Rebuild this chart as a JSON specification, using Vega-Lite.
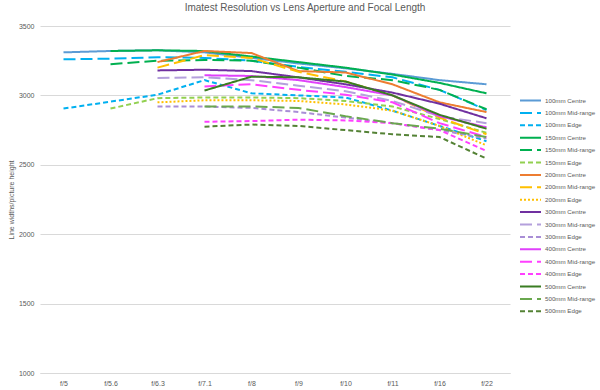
{
  "$schema": "https://vega.github.io/schema/vega-lite/v6.json",
  "width": 470,
  "height": 347,
  "autosize": {"type": "none"},
  "padding": {"left": 40, "top": 26, "right": 90, "bottom": 17},
  "background": "white",
  "config": {"font": "Liberation Sans", "view": {"stroke": null}},
  "title": {"text": "Imatest Resolution vs Lens Aperture and Focal Length", "fontSize": 10, "fontWeight": "normal", "color": "#595959", "anchor": "middle", "dx": 30, "offset": 9},
  "data": {"values": [
    {"series":"100mm Centre","aperture":"f/5","value":3310},{"series":"100mm Centre","aperture":"f/5.6","value":3320},{"series":"100mm Centre","aperture":"f/6.3","value":3325},{"series":"100mm Centre","aperture":"f/7.1","value":3310},{"series":"100mm Centre","aperture":"f/8","value":3270},{"series":"100mm Centre","aperture":"f/9","value":3230},{"series":"100mm Centre","aperture":"f/10","value":3195},{"series":"100mm Centre","aperture":"f/11","value":3155},{"series":"100mm Centre","aperture":"f/16","value":3110},{"series":"100mm Centre","aperture":"f/22","value":3080},
    {"series":"100mm Mid-range","aperture":"f/5","value":3260},{"series":"100mm Mid-range","aperture":"f/5.6","value":3265},{"series":"100mm Mid-range","aperture":"f/6.3","value":3275},{"series":"100mm Mid-range","aperture":"f/7.1","value":3270},{"series":"100mm Mid-range","aperture":"f/8","value":3250},{"series":"100mm Mid-range","aperture":"f/9","value":3205},{"series":"100mm Mid-range","aperture":"f/10","value":3170},{"series":"100mm Mid-range","aperture":"f/11","value":3130},{"series":"100mm Mid-range","aperture":"f/16","value":3040},{"series":"100mm Mid-range","aperture":"f/22","value":2895},
    {"series":"100mm Edge","aperture":"f/5","value":2905},{"series":"100mm Edge","aperture":"f/5.6","value":2955},{"series":"100mm Edge","aperture":"f/6.3","value":3005},{"series":"100mm Edge","aperture":"f/7.1","value":3110},{"series":"100mm Edge","aperture":"f/8","value":3015},{"series":"100mm Edge","aperture":"f/9","value":3000},{"series":"100mm Edge","aperture":"f/10","value":2985},{"series":"100mm Edge","aperture":"f/11","value":2890},{"series":"100mm Edge","aperture":"f/16","value":2780},{"series":"100mm Edge","aperture":"f/22","value":2670},
    {"series":"150mm Centre","aperture":"f/5.6","value":3320},{"series":"150mm Centre","aperture":"f/6.3","value":3325},{"series":"150mm Centre","aperture":"f/7.1","value":3320},{"series":"150mm Centre","aperture":"f/8","value":3280},{"series":"150mm Centre","aperture":"f/9","value":3240},{"series":"150mm Centre","aperture":"f/10","value":3200},{"series":"150mm Centre","aperture":"f/11","value":3150},{"series":"150mm Centre","aperture":"f/16","value":3090},{"series":"150mm Centre","aperture":"f/22","value":3015},
    {"series":"150mm Mid-range","aperture":"f/5.6","value":3225},{"series":"150mm Mid-range","aperture":"f/6.3","value":3250},{"series":"150mm Mid-range","aperture":"f/7.1","value":3255},{"series":"150mm Mid-range","aperture":"f/8","value":3250},{"series":"150mm Mid-range","aperture":"f/9","value":3200},{"series":"150mm Mid-range","aperture":"f/10","value":3140},{"series":"150mm Mid-range","aperture":"f/11","value":3110},{"series":"150mm Mid-range","aperture":"f/16","value":3040},{"series":"150mm Mid-range","aperture":"f/22","value":2900},
    {"series":"150mm Edge","aperture":"f/5.6","value":2905},{"series":"150mm Edge","aperture":"f/6.3","value":2980},{"series":"150mm Edge","aperture":"f/7.1","value":2985},{"series":"150mm Edge","aperture":"f/8","value":2985},{"series":"150mm Edge","aperture":"f/9","value":2980},{"series":"150mm Edge","aperture":"f/10","value":2960},{"series":"150mm Edge","aperture":"f/11","value":2920},{"series":"150mm Edge","aperture":"f/16","value":2830},{"series":"150mm Edge","aperture":"f/22","value":2730},
    {"series":"200mm Centre","aperture":"f/6.3","value":3240},{"series":"200mm Centre","aperture":"f/7.1","value":3320},{"series":"200mm Centre","aperture":"f/8","value":3305},{"series":"200mm Centre","aperture":"f/9","value":3175},{"series":"200mm Centre","aperture":"f/10","value":3165},{"series":"200mm Centre","aperture":"f/11","value":3080},{"series":"200mm Centre","aperture":"f/16","value":2950},{"series":"200mm Centre","aperture":"f/22","value":2880},
    {"series":"200mm Mid-range","aperture":"f/6.3","value":3200},{"series":"200mm Mid-range","aperture":"f/7.1","value":3290},{"series":"200mm Mid-range","aperture":"f/8","value":3270},{"series":"200mm Mid-range","aperture":"f/9","value":3170},{"series":"200mm Mid-range","aperture":"f/10","value":3100},{"series":"200mm Mid-range","aperture":"f/11","value":3000},{"series":"200mm Mid-range","aperture":"f/16","value":2840},{"series":"200mm Mid-range","aperture":"f/22","value":2720},
    {"series":"200mm Edge","aperture":"f/6.3","value":2950},{"series":"200mm Edge","aperture":"f/7.1","value":2965},{"series":"200mm Edge","aperture":"f/8","value":2965},{"series":"200mm Edge","aperture":"f/9","value":2960},{"series":"200mm Edge","aperture":"f/10","value":2935},{"series":"200mm Edge","aperture":"f/11","value":2890},{"series":"200mm Edge","aperture":"f/16","value":2780},{"series":"200mm Edge","aperture":"f/22","value":2640},
    {"series":"300mm Centre","aperture":"f/6.3","value":3180},{"series":"300mm Centre","aperture":"f/7.1","value":3185},{"series":"300mm Centre","aperture":"f/8","value":3175},{"series":"300mm Centre","aperture":"f/9","value":3130},{"series":"300mm Centre","aperture":"f/10","value":3080},{"series":"300mm Centre","aperture":"f/11","value":3020},{"series":"300mm Centre","aperture":"f/16","value":2940},{"series":"300mm Centre","aperture":"f/22","value":2835},
    {"series":"300mm Mid-range","aperture":"f/6.3","value":3125},{"series":"300mm Mid-range","aperture":"f/7.1","value":3130},{"series":"300mm Mid-range","aperture":"f/8","value":3110},{"series":"300mm Mid-range","aperture":"f/9","value":3070},{"series":"300mm Mid-range","aperture":"f/10","value":3030},{"series":"300mm Mid-range","aperture":"f/11","value":2960},{"series":"300mm Mid-range","aperture":"f/16","value":2850},{"series":"300mm Mid-range","aperture":"f/22","value":2800},
    {"series":"300mm Edge","aperture":"f/6.3","value":2920},{"series":"300mm Edge","aperture":"f/7.1","value":2920},{"series":"300mm Edge","aperture":"f/8","value":2910},{"series":"300mm Edge","aperture":"f/9","value":2880},{"series":"300mm Edge","aperture":"f/10","value":2840},{"series":"300mm Edge","aperture":"f/11","value":2800},{"series":"300mm Edge","aperture":"f/16","value":2750},{"series":"300mm Edge","aperture":"f/22","value":2690},
    {"series":"400mm Centre","aperture":"f/7.1","value":3145},{"series":"400mm Centre","aperture":"f/8","value":3140},{"series":"400mm Centre","aperture":"f/9","value":3110},{"series":"400mm Centre","aperture":"f/10","value":3060},{"series":"400mm Centre","aperture":"f/11","value":3000},{"series":"400mm Centre","aperture":"f/16","value":2850},{"series":"400mm Centre","aperture":"f/22","value":2770},
    {"series":"400mm Mid-range","aperture":"f/7.1","value":3065},{"series":"400mm Mid-range","aperture":"f/8","value":3080},{"series":"400mm Mid-range","aperture":"f/9","value":3040},{"series":"400mm Mid-range","aperture":"f/10","value":3005},{"series":"400mm Mid-range","aperture":"f/11","value":2950},{"series":"400mm Mid-range","aperture":"f/16","value":2800},{"series":"400mm Mid-range","aperture":"f/22","value":2700},
    {"series":"400mm Edge","aperture":"f/7.1","value":2810},{"series":"400mm Edge","aperture":"f/8","value":2815},{"series":"400mm Edge","aperture":"f/9","value":2825},{"series":"400mm Edge","aperture":"f/10","value":2820},{"series":"400mm Edge","aperture":"f/11","value":2800},{"series":"400mm Edge","aperture":"f/16","value":2750},{"series":"400mm Edge","aperture":"f/22","value":2600},
    {"series":"500mm Centre","aperture":"f/7.1","value":3035},{"series":"500mm Centre","aperture":"f/8","value":3135},{"series":"500mm Centre","aperture":"f/9","value":3130},{"series":"500mm Centre","aperture":"f/10","value":3100},{"series":"500mm Centre","aperture":"f/11","value":3000},{"series":"500mm Centre","aperture":"f/16","value":2860},{"series":"500mm Centre","aperture":"f/22","value":2760},
    {"series":"500mm Mid-range","aperture":"f/7.1","value":2920},{"series":"500mm Mid-range","aperture":"f/8","value":2920},{"series":"500mm Mid-range","aperture":"f/9","value":2910},{"series":"500mm Mid-range","aperture":"f/10","value":2850},{"series":"500mm Mid-range","aperture":"f/11","value":2800},{"series":"500mm Mid-range","aperture":"f/16","value":2760},{"series":"500mm Mid-range","aperture":"f/22","value":2700},
    {"series":"500mm Edge","aperture":"f/7.1","value":2775},{"series":"500mm Edge","aperture":"f/8","value":2790},{"series":"500mm Edge","aperture":"f/9","value":2780},{"series":"500mm Edge","aperture":"f/10","value":2750},{"series":"500mm Edge","aperture":"f/11","value":2720},{"series":"500mm Edge","aperture":"f/16","value":2700},{"series":"500mm Edge","aperture":"f/22","value":2545}
  ]},
  "mark": {"type": "line", "strokeWidth": 2},
  "encoding": {
    "x": {"field": "aperture", "type": "ordinal", "sort": ["f/5","f/5.6","f/6.3","f/7.1","f/8","f/9","f/10","f/11","f/16","f/22"],
      "axis": {"title": null, "labelAngle": 0, "labelFontSize": 7, "labelColor": "#595959", "domainColor": "#D9D9D9", "ticks": false, "labelPadding": 6, "grid": false}},
    "y": {"field": "value", "type": "quantitative", "scale": {"domain": [1000, 3500], "nice": false, "zero": false},
      "axis": {"title": "Line widths/picture height", "titleFontSize": 7, "titleFontWeight": "normal", "titleColor": "#595959", "titlePadding": 4, "values": [1000,1500,2000,2500,3000,3500], "format": "d", "labelFontSize": 7, "labelColor": "#595959", "domain": false, "ticks": false, "labelPadding": 6, "gridColor": "#D9D9D9"}},
    "color": {"field": "series", "type": "nominal",
      "scale": {"domain": ["100mm Centre","100mm Mid-range","100mm Edge","150mm Centre","150mm Mid-range","150mm Edge","200mm Centre","200mm Mid-range","200mm Edge","300mm Centre","300mm Mid-range","300mm Edge","400mm Centre","400mm Mid-range","400mm Edge","500mm Centre","500mm Mid-range","500mm Edge"],
        "range": ["#5B9BD5","#00B0F0","#00B0F0","#00B050","#00B050","#92D050","#ED7D31","#FFC000","#FFC000","#7030A0","#B4A0DC","#A98ED6","#E040FB","#FF40FF","#FF40FF","#3A7D22","#6AA84F","#548235"]},
      "legend": {"title": null, "orient": "none", "legendX": 486, "legendY": 70, "symbolType": "M-3,0H3", "symbolSize": 49, "symbolStrokeWidth": 2, "labelFontSize": 6.2, "labelColor": "#595959", "rowPadding": 3.4, "labelOffset": 10, "labelLimit": 80}},
    "strokeDash": {"field": "series", "type": "nominal",
      "scale": {"domain": ["100mm Centre","100mm Mid-range","100mm Edge","150mm Centre","150mm Mid-range","150mm Edge","200mm Centre","200mm Mid-range","200mm Edge","300mm Centre","300mm Mid-range","300mm Edge","400mm Centre","400mm Mid-range","400mm Edge","500mm Centre","500mm Mid-range","500mm Edge"],
        "range": [[1,0],[12,5],[5,3],[1,0],[12,5],[5,3],[1,0],[12,5],[2,2],[1,0],[12,5],[5,3],[1,0],[12,5],[5,3],[1,0],[12,5],[5,3]]}}
  }
}
